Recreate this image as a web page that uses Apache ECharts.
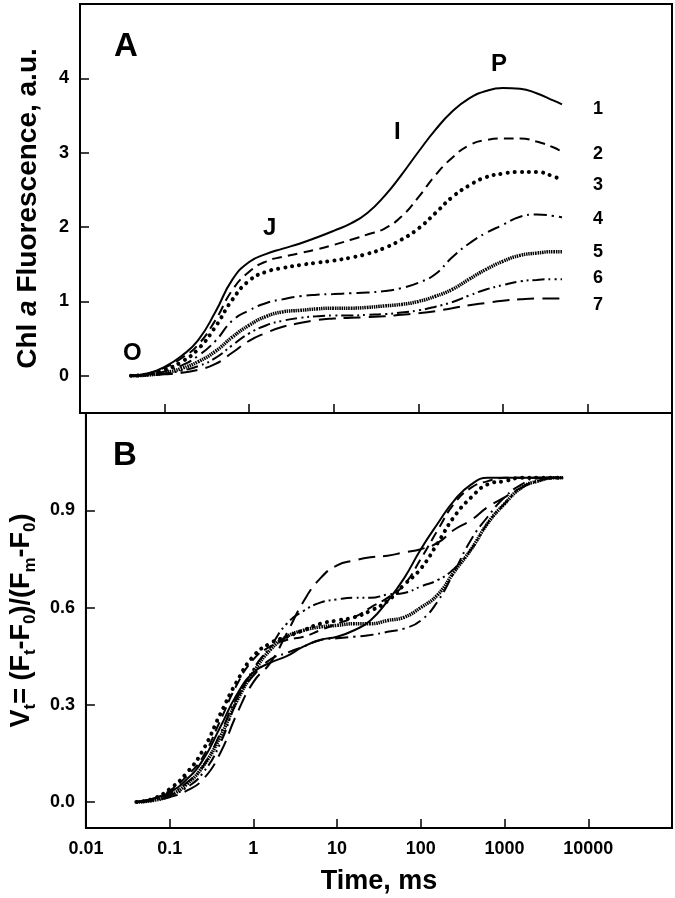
<!DOCTYPE html>
<html>
<head>
<meta charset="utf-8">
<script src="https://cdn.jsdelivr.net/npm/echarts@6/dist/echarts.min.js"></script>
<style>
html,body{margin:0;padding:0;background:#fff;}
#chart{width:675px;height:898px;}
</style>
</head>
<body>
<div id="chart"></div>
<script>
// Time points (ms)
var times = [0.04,0.063,0.1,0.16,0.25,0.4,0.63,1,1.6,2.5,4,6.3,10,16,25,40,63,100,160,250,400,630,1000,1600,2500,4000,5000];

// Panel A: Chl a fluorescence (a.u.)
var fA1 = [0,0.03,0.12,0.27,0.48,0.86,1.29,1.53,1.64,1.71,1.78,1.86,1.95,2.05,2.19,2.42,2.70,3.01,3.31,3.55,3.73,3.83,3.87,3.86,3.80,3.70,3.65];
var fA2 = [0,0.03,0.11,0.24,0.42,0.75,1.15,1.40,1.54,1.60,1.65,1.70,1.76,1.83,1.90,1.98,2.14,2.40,2.70,2.93,3.10,3.17,3.19,3.19,3.15,3.07,3.01];
var fA3 = [0,0.02,0.08,0.19,0.36,0.66,1.02,1.28,1.40,1.45,1.49,1.52,1.55,1.59,1.64,1.72,1.83,1.98,2.19,2.40,2.56,2.67,2.72,2.74,2.74,2.68,2.63];
var fA4 = [0,0.02,0.06,0.14,0.27,0.47,0.74,0.88,0.98,1.03,1.07,1.09,1.10,1.11,1.12,1.14,1.18,1.25,1.37,1.59,1.78,1.92,2.03,2.14,2.17,2.15,2.13];
var fA5 = [0,0.01,0.04,0.10,0.19,0.33,0.52,0.68,0.80,0.86,0.88,0.90,0.91,0.91,0.92,0.94,0.96,1.00,1.07,1.16,1.30,1.43,1.54,1.62,1.65,1.67,1.67];
var fA6 = [0,0.01,0.03,0.07,0.13,0.24,0.41,0.57,0.68,0.74,0.78,0.80,0.81,0.81,0.82,0.83,0.85,0.88,0.93,0.99,1.08,1.16,1.22,1.27,1.29,1.30,1.30];
var fA7 = [0,0.005,0.02,0.04,0.08,0.16,0.31,0.47,0.58,0.66,0.71,0.75,0.77,0.78,0.79,0.80,0.82,0.84,0.87,0.91,0.95,0.98,1.01,1.03,1.04,1.04,1.04];

// Panel B: relative variable fluorescence Vt
var vB1 = [0,0.01,0.03,0.07,0.13,0.23,0.33,0.40,0.43,0.45,0.48,0.50,0.51,0.53,0.56,0.62,0.69,0.78,0.86,0.93,0.98,1,1,1,1,1,1];
var vB2 = [0,0.01,0.035,0.08,0.14,0.25,0.36,0.44,0.48,0.50,0.51,0.53,0.55,0.57,0.60,0.63,0.67,0.75,0.84,0.92,0.97,0.99,1,1,1,1,1];
var vB3 = [0,0.01,0.04,0.09,0.16,0.27,0.37,0.45,0.49,0.51,0.53,0.55,0.56,0.57,0.59,0.62,0.67,0.72,0.80,0.88,0.94,0.98,0.99,1,1,1,1];
var vB4 = [0,0.01,0.025,0.06,0.11,0.21,0.32,0.39,0.44,0.46,0.48,0.50,0.505,0.51,0.515,0.525,0.535,0.56,0.62,0.71,0.81,0.88,0.94,0.98,1,1,1];
var vB5 = [0,0.005,0.02,0.055,0.11,0.20,0.31,0.40,0.47,0.51,0.53,0.54,0.545,0.55,0.55,0.56,0.57,0.60,0.64,0.71,0.78,0.86,0.92,0.97,0.99,1,1];
var vB6 = [0,0.005,0.02,0.045,0.09,0.18,0.31,0.41,0.48,0.55,0.59,0.615,0.625,0.63,0.63,0.64,0.645,0.665,0.685,0.72,0.78,0.86,0.92,0.97,0.99,1,1];
var vB7 = [0,0.005,0.015,0.035,0.07,0.15,0.27,0.37,0.43,0.52,0.62,0.69,0.73,0.745,0.755,0.76,0.77,0.78,0.80,0.84,0.87,0.91,0.94,0.97,0.99,1,1];

// Tick labels
var xTickLabels = ['0.01','0.1','1','10','100','1000','10000'];
var yTicksA = [0,1,2,3,4];
var yTicksB = [0,0.3,0.6,0.9];
var curveNames = ['1','2','3','4','5','6','7'];

var seriesA = [fA1,fA2,fA3,fA4,fA5,fA6,fA7];
var seriesB = [vB1,vB2,vB3,vB4,vB5,vB6,vB7];

var FONT = 'Liberation Sans, Arial, sans-serif';
var styles = [
  {type:'solid', width:2},
  {type:[10,6], width:2},
  {type:[0.1,7], width:4, cap:'round'},
  {type:[13,5,2,5], width:2},
  {type:[1.5,0.8], width:3.5},
  {type:[12,4,2,4,2,4], width:2},
  {type:[17,8], width:2}
];

function pairs(arr){ return times.map(function(t,i){ return [t, arr[i]]; }); }

var series = [];
[seriesA, seriesB].forEach(function(group, gi){
  group.forEach(function(arr, i){
    var s = styles[i];
    series.push({
      type:'line', name:curveNames[i], xAxisIndex:gi, yAxisIndex:gi,
      data:pairs(arr), showSymbol:false, smooth:0.5, silent:true,
      lineStyle:{color:'#000', width:s.width, type:s.type, cap:s.cap||'butt'}
    });
  });
});

function xLabel(v){
  var e = Math.round(Math.log10(v));
  var idx = e + 2;
  return (idx >= 0 && idx < xTickLabels.length) ? xTickLabels[idx] : '';
}

var xBase = {
  type:'log', logBase:10, min:0.01, max:100000,
  axisLine:{show:true, onZero:false, lineStyle:{color:'#000', width:2}},
  axisTick:{show:true, inside:true, length:9, lineStyle:{color:'#000', width:1.5}},
  splitLine:{show:false}
};

var option = {
  backgroundColor:'#fff',
  animation:false,
  grid:[
    {left:80, top:4, width:592, height:409, show:true, borderColor:'#000', borderWidth:2},
    {left:80, top:413, width:592, height:415, show:true, borderColor:'#000', borderWidth:2}
  ],
  xAxis:[
    Object.assign({}, xBase, {gridIndex:0, axisLabel:{show:false}}),
    Object.assign({}, xBase, {gridIndex:1,
      axisLabel:{show:true, margin:12, color:'#000', fontFamily:FONT, fontWeight:'bold', fontSize:18, formatter:xLabel},
      name:'Time, ms', nameLocation:'middle', nameGap:40,
      nameTextStyle:{color:'#000', fontFamily:FONT, fontWeight:'bold', fontSize:27}
    })
  ],
  yAxis:[
    {gridIndex:0, type:'value', min:-0.5, max:5,
     axisLine:{show:true, onZero:false, lineStyle:{color:'#000', width:2}},
     axisTick:{show:true, inside:true, length:9, customValues:yTicksA, lineStyle:{color:'#000', width:1.5}},
     axisLabel:{show:true, margin:11, customValues:yTicksA, color:'#000', fontFamily:FONT, fontWeight:'bold', fontSize:18},
     splitLine:{show:false},
     name:'{n|Chl }{i|a}{n| Fluorescence, a.u.}', nameLocation:'middle', nameGap:38,
     nameTextStyle:{rich:{
       n:{color:'#000', fontFamily:FONT, fontWeight:'bold', fontSize:28},
       i:{color:'#000', fontFamily:FONT, fontWeight:'bold', fontStyle:'italic', fontSize:28}
     }}
    },
    {gridIndex:1, type:'value', min:-0.08, max:1.2,
     axisLine:{show:true, onZero:false, lineStyle:{color:'#000', width:2}},
     axisTick:{show:true, inside:true, length:9, customValues:yTicksB, lineStyle:{color:'#000', width:1.5}},
     axisLabel:{show:true, margin:11, customValues:yTicksB, color:'#000', fontFamily:FONT, fontWeight:'bold', fontSize:18,
       formatter:function(v){ return v.toFixed(1); }},
     splitLine:{show:false},
     name:'{n|V}{s|t}{n|= (F}{s|t}{n|-F}{s|0}{n|)/(F}{s|m}{n|-F}{s|0}{n|)}', nameLocation:'middle', nameGap:38,
     nameTextStyle:{rich:{
       n:{color:'#000', fontFamily:FONT, fontWeight:'bold', fontSize:27, lineHeight:34, verticalAlign:'middle'},
       s:{color:'#000', fontFamily:FONT, fontWeight:'bold', fontSize:17, lineHeight:34, verticalAlign:'bottom', padding:[14,0,0,0]}
     }}
    }
  ],
  graphic:[
    {type:'text', left:114, top:30, style:{text:'A', font:'bold 33px '+FONT, fill:'#000'}},
    {type:'text', left:113, top:439, style:{text:'B', font:'bold 33px '+FONT, fill:'#000'}},
    {type:'text', left:123, top:341, style:{text:'O', font:'bold 24px '+FONT, fill:'#000'}},
    {type:'text', left:263, top:216, style:{text:'J', font:'bold 24px '+FONT, fill:'#000'}},
    {type:'text', left:394, top:120, style:{text:'I', font:'bold 24px '+FONT, fill:'#000'}},
    {type:'text', left:491, top:52, style:{text:'P', font:'bold 24px '+FONT, fill:'#000'}}
  ].concat(curveNames.map(function(n, i){
    var ys = [110,155,186,220,253,279,306];
    return {type:'text', left:593, top:ys[i]-10, style:{text:n, font:'bold 18px '+FONT, fill:'#000'}};
  })),
  series:series
};

var chart = echarts.init(document.getElementById('chart'), null, {renderer:'canvas'});
chart.setOption(option);
</script>
</body>
</html>
